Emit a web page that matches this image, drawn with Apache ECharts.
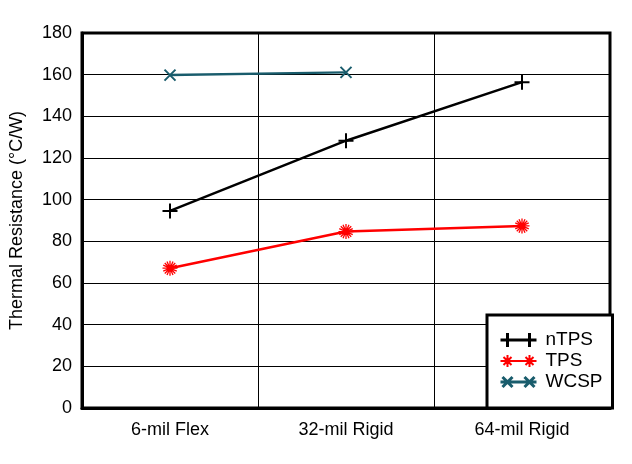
<!DOCTYPE html>
<html>
<head>
<meta charset="utf-8">
<script src="https://cdn.jsdelivr.net/npm/echarts@6/dist/echarts.min.js"></script>
<style>
  html, body { margin: 0; padding: 0; background: #fff; }
  #chart { width: 632px; height: 464px; }
</style>
</head>
<body>
<div id="chart"></div>
<script>
// 数据
const categories = ["6-mil Flex", "32-mil Rigid", "64-mil Rigid"];
const nTPS = [94.6, 128.3, 156.4];
const TPS = [67.1, 84.7, 87.4];
const WCSP = [159.8, 161.1, null];
const yTicks = { min: 0, max: 180, interval: 20 };

const font = "Liberation Sans, Arial, sans-serif";

// 标记形状
const plusSym = "path://M0,-10L0,10M-10,0L10,0";
const xSym = "path://M-10,-10L10,10M-10,10L10,-10";
const starSym = "path://M0,-10L0,10M-10,0L10,0M-7,-7L7,7M-7,7L7,-7M-4,-9L4,9M-9,-4L9,4M-4,9L4,-9M-9,4L9,-4";

// 图例图标：线 + 两个标记
const plusIcon = "path://M0,7L36,7M7,0L7,14M29,0L29,14M0,7L14,7M22,7L36,7";
const xIcon = "path://M0,7L36,7M2,2L12,12M2,12L12,2M24,2L34,12M24,12L34,2";
const starIcon = "path://M0,7L36,7M7,1L7,13M1,7L13,7M3,3L11,11M3,11L11,3M29,1L29,13M23,7L35,7M25,3L33,11M25,11L33,3";

function mk(name, data, color, sym, size, bw) {
  return {
    name: name,
    type: "line",
    data: data,
    symbol: sym,
    symbolSize: size,
    showSymbol: true,
    connectNulls: false,
    lineStyle: { color: color, width: 2.5 },
    itemStyle: { color: color, borderColor: color, borderWidth: bw },
    emphasis: { disabled: true },
    z: 3
  };
}

let chart = echarts.init(document.getElementById("chart"));
let option = {
  animation: false,
  textStyle: { fontFamily: font },
  grid: {
    left: 82,
    right: 22,
    top: 33,
    bottom: 56,
    show: true,
    borderColor: "#000",
    borderWidth: 3
  },
  xAxis: {
    type: "category",
    data: categories,
    boundaryGap: true,
    axisLine: { lineStyle: { color: "#000", width: 3 } },
    axisTick: { show: false },
    splitLine: { show: true, lineStyle: { color: "#000", width: 1 } },
    axisLabel: { color: "#000", fontSize: 18, margin: 13, fontFamily: font }
  },
  yAxis: {
    type: "value",
    min: yTicks.min,
    max: yTicks.max,
    interval: yTicks.interval,
    name: "Thermal Resistance (°C/W)",
    nameLocation: "middle",
    nameGap: 56,
    nameTextStyle: { color: "#000", fontSize: 18, fontFamily: font },
    axisLine: { show: true, lineStyle: { color: "#000", width: 3 } },
    axisTick: { show: false },
    splitLine: { show: true, lineStyle: { color: "#000", width: 1 } },
    axisLabel: { color: "#000", fontSize: 18, margin: 10, fontFamily: font }
  },
  legend: {
    orient: "vertical",
    left: 487,
    top: 315,
    padding: [15, 10, 16, 11],
    itemGap: 1,
    itemWidth: 36,
    itemHeight: 14,
    backgroundColor: "#fff",
    borderColor: "#000",
    borderWidth: 3,
    textStyle: { color: "#000", fontSize: 19, lineHeight: 20, fontFamily: font, padding: [0, 0, 0, 4] },
    data: [
      { name: "nTPS", icon: plusIcon, itemStyle: { color: "none", borderColor: "#000", borderWidth: 3 } },
      { name: "TPS", icon: starIcon, itemStyle: { color: "none", borderColor: "#ff0000", borderWidth: 2 } },
      { name: "WCSP", icon: xIcon, itemStyle: { color: "none", borderColor: "#195c6c", borderWidth: 3 } }
    ],
    selectedMode: false,
    z: 10
  },
  series: [
    mk("nTPS", nTPS, "#000000", plusSym, 15, 2),
    mk("TPS", TPS, "#ff0000", starSym, 15, 1.3),
    mk("WCSP", WCSP, "#195c6c", xSym, 11, 2)
  ]
};
chart.setOption(option);
</script>
</body>
</html>
